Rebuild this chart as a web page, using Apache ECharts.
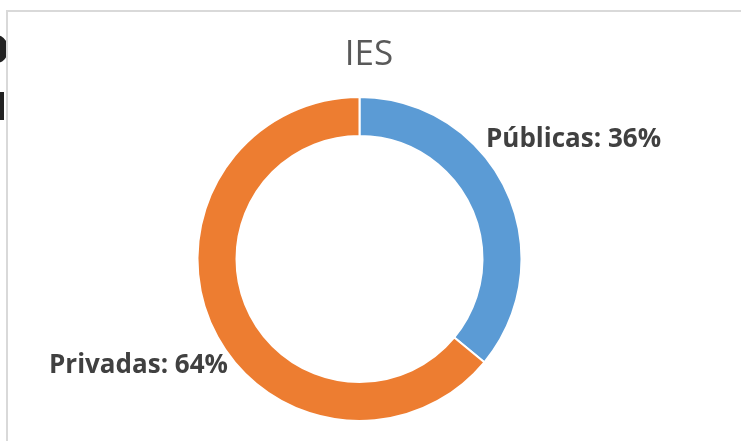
<!DOCTYPE html>
<html>
<head>
<meta charset="utf-8">
<script src="https://cdn.jsdelivr.net/npm/echarts@6/dist/echarts.min.js"></script>
<style>
  html, body { margin: 0; padding: 0; background: #fff; }
  .wrap { width: 741px; height: 441px; position: relative; overflow: hidden; }
  #chart { width: 741px; height: 441px; }
  .frame {
    position: absolute; left: 6px; top: 10px; right: -2px; bottom: -2px;
    border-top: 2px solid #d9d9d9; border-left: 2px solid #d9d9d9;
    pointer-events: none; z-index: 10;
  }
</style>
</head>
<body>
<div class="wrap">
  <div id="chart"></div>
  <div class="frame"></div>
</div>
<script>
// dados do gráfico
const categorias = ['Públicas', 'Privadas']
const valores = [36, 64]
const cores = ['#5b9bd5', '#ed7d31']
const titulo = 'IES'

const chart = echarts.init(document.getElementById('chart'), null, { renderer: 'canvas' })

// posição dos rótulos
const labelPos = [
  { x: 486, y: 140, align: 'left' },
  { x: 49, y: 366, align: 'left' }
]

const option = {
  animation: false,
  title: {
    text: titulo,
    left: 364,
    top: 33,
    textAlign: 'center',
    textStyle: {
      fontFamily: 'Open Sans',
      fontWeight: 'normal',
      fontSize: 35,
      color: '#595959'
    }
  },
  graphic: [
    {
      type: 'text', left: -22, top: 22,
      style: { text: 'o', fontFamily: 'Open Sans', fontWeight: 'bold', fontSize: 52, fill: '#222' }
    },
    {
      type: 'rect', shape: { x: 0, y: 92, width: 4, height: 28 },
      style: { fill: '#222' }
    }
  ],
  series: [
    {
      type: 'pie',
      center: [359.5, 259],
      radius: [123, 162],
      startAngle: 90,
      clockwise: true,
      itemStyle: { borderColor: '#fff', borderWidth: 2 },
      label: {
        show: true,
        formatter: '{b}: {c}%',
        fontFamily: 'Open Sans',
        fontWeight: 'bold',
        fontSize: 26,
        color: '#404040',
        overflow: 'none',
        width: 260
      },
      labelLine: { show: false },
      labelLayout: (params) => {
        const p = labelPos[params.dataIndex]
        return { x: p.x, y: p.y, align: p.align, verticalAlign: 'middle' }
      },
      emphasis: { disabled: true },
      data: categorias.map((name, i) => ({
        name,
        value: valores[i],
        itemStyle: { color: cores[i] }
      }))
    }
  ]
}

chart.setOption(option)
</script>
</body>
</html>
